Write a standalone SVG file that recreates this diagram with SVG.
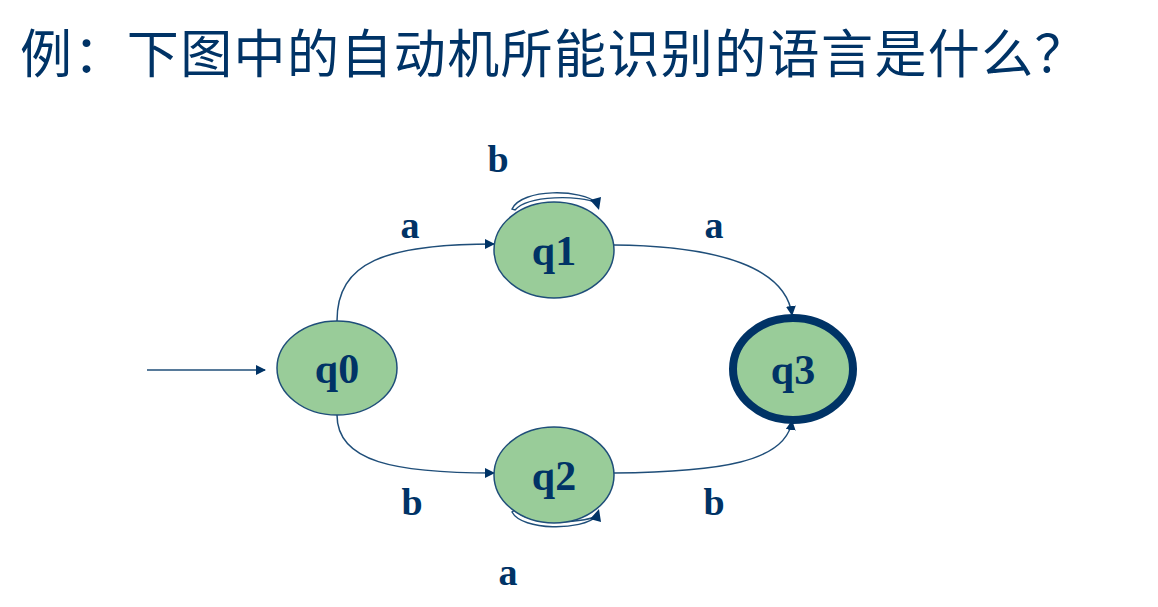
<svg xmlns="http://www.w3.org/2000/svg" width="1158" height="607" viewBox="0 0 1158 607">
<style>
.title{font-family:"Noto Sans CJK SC","Liberation Sans",sans-serif;font-size:52px;letter-spacing:1.4px;fill:#003366}
.st{fill:#99CC99;stroke:#1F4E79;stroke-width:1.5}
.acc{fill:#99CC99;stroke:#003366;stroke-width:8}
.nl{font-family:"Liberation Serif",serif;font-weight:bold;font-size:42px;fill:#003366;text-anchor:middle}
.el{font-family:"Liberation Serif",serif;font-weight:bold;font-size:38px;fill:#003366;text-anchor:middle}
.edge{fill:none;stroke:#1F4E79;stroke-width:1.5}
.loop{fill:#ffffff;stroke:#1F4E79;stroke-width:1.4}
.head{fill:#003366}
</style>
<defs>
<marker id="arr" markerWidth="10" markerHeight="10" refX="9" refY="5" orient="auto" markerUnits="userSpaceOnUse">
<path d="M0,0 L10,5 L0,10 Z" fill="#003366"/>
</marker>
</defs>
<text class="title" x="20" y="73">例：下图中的自动机所能识别的语言是什么？</text>
<g id="connectors">
<path class="edge" d="M147,370 L265,370" marker-end="url(#arr)"/>
<path class="edge" d="M337,321 C337,262 385,244 494,244" marker-end="url(#arr)"/>
<path class="edge" d="M614,245 C720,246 786,268 792,315" marker-end="url(#arr)"/>
<path class="edge" d="M337,415 C337,462 395,473 494,473" marker-end="url(#arr)"/>
<path class="edge" d="M614,473 C720,472 786,462 792,421" marker-end="url(#arr)"/>
<path class="loop" d="M512,209 C522,188 582,189 597,203 C580,195 528,195 515,210 Z"/>
<path class="head" d="M590,200 L601,197 L599,210 Z"/>
<path class="loop" d="M512,512 C522,531 582,531 597,516 C580,524 528,525 515,510 Z"/>
<path class="head" d="M590,519 L601,522 L599,509 Z"/>
<text class="el" x="498" y="172">b</text>
<text class="el" x="410" y="238">a</text>
<text class="el" x="714" y="238">a</text>
<text class="el" x="412" y="515">b</text>
<text class="el" x="714" y="515">b</text>
<text class="el" x="508" y="585">a</text>
</g>
<g id="q0"><ellipse class="st" cx="337" cy="368" rx="60" ry="47"/><text class="nl" x="337" y="383">q0</text></g>
<g id="q1"><ellipse class="st" cx="554" cy="250" rx="60" ry="48"/><text class="nl" x="554" y="265">q1</text></g>
<g id="q2"><ellipse class="st" cx="554" cy="475" rx="60" ry="48"/><text class="nl" x="554" y="490">q2</text></g>
<g id="q3"><ellipse class="acc" cx="793" cy="369" rx="60" ry="51"/><text class="nl" x="793" y="384">q3</text></g>
</svg>
